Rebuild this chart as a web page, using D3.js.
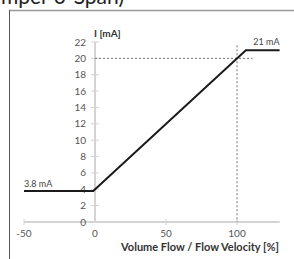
<!DOCTYPE html>
<html>
<head>
<meta charset="utf-8">
<script src="https://cdn.jsdelivr.net/npm/d3@7"></script>
<style>
body { margin:0; background:#fff; }
text { font-family: Lato, "Open Sans", sans-serif; }
</style>
</head>
<body>
<div id="chart"></div>
<script>
// current output curve (flow % -> mA)
var flow = [-50, -1.25, 106.25, 130];
var current = [3.8, 3.8, 21, 21];
var xTicks = [-50, 0, 50, 100];
var yTicks = [0, 2, 4, 6, 8, 10, 12, 14, 16, 18, 20, 22];
var labels = ['3.8 mA', '21 mA'];

const width = 294, height = 259;

var svg = d3.select('#chart').append('svg')
	.attr('width', width)
	.attr('height', height);

var x = d3.scaleLinear().domain([-50, 100]).range([24, 237]);
var y = d3.scaleLinear().domain([0, 22]).range([222, 42]);

// cut off heading above the figure
svg.append('text')
	.attr('x', 124).attr('y', 4)
	.attr('text-anchor', 'end')
	.attr('font-size', 21)
	.attr('fill', '#222')
	.text('(Jumper 0-Span)');

// frame
svg.append('line').attr('x1', 9).attr('x2', width).attr('y1', 10.5).attr('y2', 10.5)
	.attr('stroke', '#999').attr('stroke-width', 1.5);
svg.append('line').attr('x1', 9.5).attr('x2', 9.5).attr('y1', 10).attr('y2', height)
	.attr('stroke', '#555').attr('stroke-width', 1);

// x axis
svg.append('line').attr('x1', x(-50)).attr('x2', x(130)).attr('y1', y(0)).attr('y2', y(0))
	.attr('stroke', '#d4d4d4').attr('stroke-width', 2);
svg.append('g').selectAll('line').data(xTicks.filter(function(d){ return d != 0 })).enter().append('line')
	.attr('x1', function(d){ return x(d) }).attr('x2', function(d){ return x(d) })
	.attr('y1', y(0) - 3).attr('y2', y(0) + 3)
	.attr('stroke', '#d4d4d4').attr('stroke-width', 1);
svg.append('g').selectAll('text').data(xTicks).enter().append('text')
	.attr('x', function(d){ return x(d) }).attr('y', 237)
	.attr('text-anchor', 'middle').attr('font-size', 10).attr('fill', '#555')
	.text(function(d){ return d });

// y axis
svg.append('line').attr('x1', x(0)).attr('x2', x(0)).attr('y1', y(0)).attr('y2', y(22))
	.attr('stroke', '#d4d4d4').attr('stroke-width', 2);
svg.append('g').selectAll('line').data(yTicks).enter().append('line')
	.attr('x1', x(0) - 4).attr('x2', x(0) + 4)
	.attr('y1', function(d){ return y(d) }).attr('y2', function(d){ return y(d) })
	.attr('stroke', '#d4d4d4').attr('stroke-width', 1);
svg.append('g').selectAll('text').data(yTicks).enter().append('text')
	.attr('x', 86).attr('y', function(d){ return y(d) + 3.5 })
	.attr('text-anchor', 'end').attr('font-size', 10).attr('fill', '#555')
	.text(function(d){ return d });

// axis titles
svg.append('text').attr('x', 94).attr('y', 37)
	.attr('font-size', 10).attr('font-weight', 'bold').attr('fill', '#333')
	.text('I [mA]');
svg.append('text').attr('x', 279).attr('y', 251)
	.attr('text-anchor', 'end').attr('font-size', 11).attr('font-weight', 'bold').attr('fill', '#333')
	.text('Volume Flow / Flow Velocity [%]');

// dotted guides at 100% / 20 mA
svg.append('line').attr('x1', x(0)).attr('x2', x(111)).attr('y1', y(20)).attr('y2', y(20))
	.attr('stroke', '#777').attr('stroke-width', 1).attr('stroke-dasharray', '2,2');
svg.append('line').attr('x1', x(100)).attr('x2', x(100)).attr('y1', y(21.6)).attr('y2', y(0))
	.attr('stroke', '#777').attr('stroke-width', 1).attr('stroke-dasharray', '2,2');

// output curve
var pts = flow.map(function(d, i){ return [d, current[i]] });
svg.append('path').datum(pts)
	.attr('fill', 'none').attr('stroke', '#1a1a1a').attr('stroke-width', 2)
	.attr('d', d3.line().x(function(d){ return x(d[0]) }).y(function(d){ return y(d[1]) }));

// value labels
svg.append('text').attr('x', x(-50)).attr('y', y(3.8) - 4)
	.attr('font-size', 9).attr('fill', '#444').text(labels[0]);
svg.append('text').attr('x', x(130)).attr('y', y(21) - 5)
	.attr('text-anchor', 'end').attr('font-size', 9).attr('fill', '#444').text(labels[1]);
</script>
</body>
</html>
